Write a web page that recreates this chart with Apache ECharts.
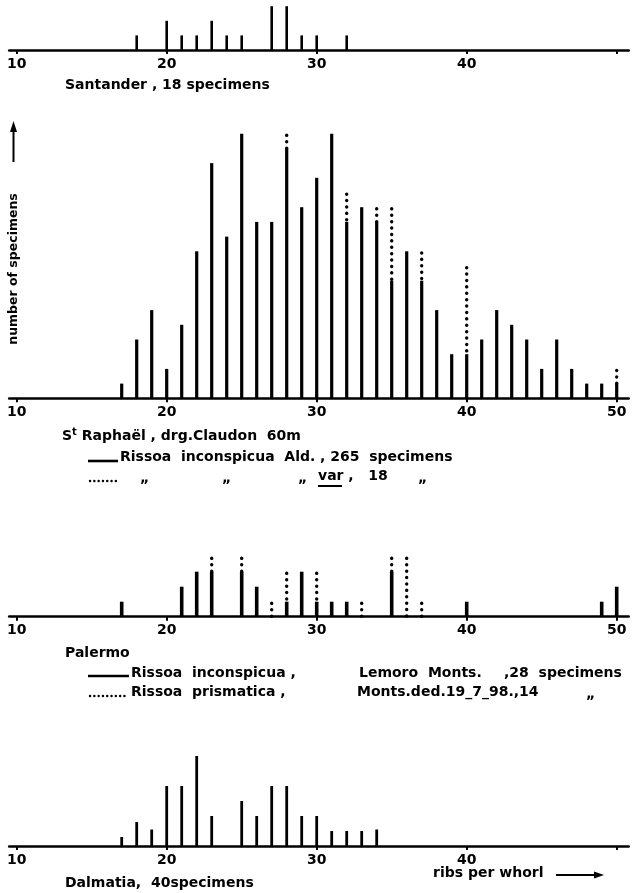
<!DOCTYPE html>
<html>
<head>
<meta charset="utf-8">
<script src="https://cdn.jsdelivr.net/npm/echarts@6/dist/echarts.min.js"></script>
<style>
  html, body { margin: 0; padding: 0; background: #fff; }
  #main { width: 641px; height: 893px; }
</style>
</head>
<body>
<div id="main"></div>
<script>
// Santander
const santanderRibs = [18, 20, 21, 22, 23, 24, 25, 27, 28, 29, 30, 32];
const santanderCount = [1, 2, 1, 1, 2, 1, 1, 3, 3, 1, 1, 1];

// St Raphaël - Rissoa inconspicua (solid) + var. (dotted)
const raphaelRibs = [17, 18, 19, 20, 21, 22, 23, 24, 25, 26, 27, 28, 29, 30, 31, 32, 33,
  34, 35, 36, 37, 38, 39, 40, 41, 42, 43, 44, 45, 46, 47, 48, 49, 50];
const raphaelCount = [1, 4, 6, 2, 5, 10, 16, 11, 18, 12, 12, 17, 13, 15, 18, 12, 13,
  12, 8, 10, 8, 6, 3, 3, 4, 6, 5, 4, 2, 4, 2, 1, 1, 1];
const raphaelVarRibs = [28, 32, 34, 35, 37, 40, 50];
const raphaelVarCount = [1, 2, 1, 5, 2, 6, 1];

// Palermo - inconspicua (solid) + prismatica (dotted)
const palermoRibs = [17, 21, 22, 23, 25, 26, 28, 29, 30, 31, 32, 35, 40, 49, 50];
const palermoCount = [1, 2, 3, 3, 3, 2, 1, 3, 1, 1, 1, 3, 1, 1, 2];
const prismaticaRibs = [23, 25, 27, 28, 30, 33, 35, 36, 37];
const prismaticaCount = [1, 1, 1, 2, 2, 1, 1, 4, 1];

// Dalmatia
const dalmatiaRibs = [17, 18, 19, 20, 21, 22, 23, 25, 26, 27, 28, 29, 30, 31, 32, 33, 34];
const dalmatiaCount = [0.6, 1.6, 1.1, 4, 4, 6, 2, 3, 2, 4, 4, 2, 2, 1, 1, 1, 1.1];

// tick labels
const ticksAll = [10, 20, 30, 40, 50];
const labelsShort = [10, 20, 30, 40];
const labelsLong = [10, 20, 30, 40, 50];

const FONT = '"DejaVu Sans", sans-serif';

// pair ribs with counts
function pairs(ribs, counts) {
  return ribs.map((r, i) => [r, counts[i]]);
}
// dotted segments sit on top of the solid bar of the same rib count
function stacked(ribs, counts, baseRibs, baseCounts) {
  return ribs.map((r, i) => {
    const k = baseRibs.indexOf(r);
    const base = k > -1 ? baseCounts[k] : 0;
    return [r, base, base + counts[i]];
  });
}

// panel layout: baseline y, y max, px per specimen
const panels = [
  { base: 50, ymax: 3, unit: 14.6, labels: labelsShort, barW: 2.6 },
  { base: 398.3, ymax: 18, unit: 14.7, labels: labelsLong, barW: 3.2 },
  { base: 616.7, ymax: 4, unit: 15, labels: labelsLong, barW: 3.6 },
  { base: 846, ymax: 6, unit: 15, labels: labelsShort, barW: 2.8 }
];

const chart = echarts.init(document.getElementById('main'));

const grid = panels.map(p => ({
  left: 9.2,
  right: 12.3,
  top: p.base - p.ymax * p.unit,
  height: p.ymax * p.unit
}));

const xAxis = panels.map((p, i) => ({
  gridIndex: i,
  type: 'value',
  min: 9.5,
  max: 50.8,
  axisLine: { onZero: false, lineStyle: { color: '#000', width: 2.6 } },
  axisTick: { customValues: ticksAll, length: 4, lineStyle: { color: '#000', width: 2 } },
  axisLabel: {
    customValues: p.labels,
    color: '#000',
    fontFamily: FONT,
    fontWeight: 'bold',
    fontSize: 14,
    margin: 7
  },
  splitLine: { show: false }
}));

const yAxis = panels.map((p, i) => ({
  gridIndex: i,
  type: 'value',
  min: 0,
  max: p.ymax,
  show: false
}));

function barSeries(i, data) {
  return {
    type: 'bar',
    xAxisIndex: i,
    yAxisIndex: i,
    barWidth: panels[i].barW,
    itemStyle: { color: '#000' },
    data: data
  };
}

function dotSeries(i, data) {
  return {
    type: 'custom',
    xAxisIndex: i,
    yAxisIndex: i,
    data: data,
    renderItem(params, api) {
      const top = api.coord([api.value(0), api.value(2)]);
      const bot = api.coord([api.value(0), api.value(1)]);
      return {
        type: 'line',
        shape: { x1: top[0], y1: top[1] + 1.6, x2: bot[0], y2: bot[1] },
        style: { stroke: '#000', lineWidth: 3.4, lineDash: [0.1, 6.3], lineCap: 'round' }
      };
    }
  };
}

const series = [
  barSeries(0, pairs(santanderRibs, santanderCount)),
  barSeries(1, pairs(raphaelRibs, raphaelCount)),
  dotSeries(1, stacked(raphaelVarRibs, raphaelVarCount, raphaelRibs, raphaelCount)),
  barSeries(2, pairs(palermoRibs, palermoCount)),
  dotSeries(2, stacked(prismaticaRibs, prismaticaCount, palermoRibs, palermoCount)),
  barSeries(3, pairs(dalmatiaRibs, dalmatiaCount))
];

// texts and legend marks
function txt(x, y, text, size) {
  return {
    type: 'text', x: x, y: y,
    style: {
      text: text, fill: '#000', verticalAlign: 'middle',
      font: 'bold ' + (size || 14) + 'px ' + FONT
    }
  };
}
function solidMark(x1, x2, y) {
  return { type: 'line', shape: { x1: x1, y1: y, x2: x2, y2: y }, style: { stroke: '#000', lineWidth: 2.6 } };
}
function dotMark(x1, x2, y) {
  return {
    type: 'line', shape: { x1: x1, y1: y, x2: x2, y2: y },
    style: { stroke: '#000', lineWidth: 2.4, lineDash: [0.1, 4.2], lineCap: 'round' }
  };
}

const graphic = [
  txt(65, 85, 'Santander , 18 specimens'),

  // y axis label + arrow
  {
    type: 'text', x: 13.5, y: 269, rotation: Math.PI / 2,
    style: {
      text: 'number of specimens', fill: '#000', align: 'center', verticalAlign: 'middle',
      font: 'bold 12.5px ' + FONT
    }
  },
  { type: 'line', shape: { x1: 13.5, y1: 162, x2: 13.5, y2: 130 }, style: { stroke: '#000', lineWidth: 2 } },
  { type: 'polygon', shape: { points: [[10, 132], [13.5, 121], [17, 132]] }, style: { fill: '#000' } },

  {
    type: 'text', x: 62, y: 436,
    style: {
      text: '{a|S}{b|t}{a| Raphaël , drg.Claudon  60m}',
      verticalAlign: 'middle', fill: '#000',
      rich: {
        a: { font: 'bold 14px ' + FONT, fill: '#000' },
        b: { font: 'bold 10px ' + FONT, fill: '#000', verticalAlign: 'top', padding: [0, 0, 8, 0] }
      }
    }
  },
  solidMark(88, 118, 461),
  txt(120, 457, 'Rissoa  inconspicua  Ald.'),
  txt(320, 457, ', 265  specimens'),
  dotMark(90, 116, 481),
  txt(140, 478, '„'),
  txt(222, 478, '„'),
  txt(298, 478, '„'),
  txt(318, 476, 'var ,   18'),
  { type: 'line', shape: { x1: 318, y1: 486, x2: 342, y2: 486 }, style: { stroke: '#000', lineWidth: 2 } },
  txt(418, 478, '„'),

  txt(65, 653, 'Palermo'),
  solidMark(88, 129, 676),
  txt(131, 673, 'Rissoa  inconspicua ,'),
  txt(359, 673, 'Lemoro  Monts.'),
  txt(504, 673, ',28  specimens'),
  dotMark(90, 128, 696),
  txt(131, 692, 'Rissoa  prismatica ,'),
  txt(357, 692, 'Monts.ded.19_7_98.,14'),
  txt(586, 694, '„'),

  txt(433, 873, 'ribs per whorl'),
  { type: 'line', shape: { x1: 556, y1: 875, x2: 596, y2: 875 }, style: { stroke: '#000', lineWidth: 2 } },
  { type: 'polygon', shape: { points: [[594, 871.5], [604, 875], [594, 878.5]] }, style: { fill: '#000' } },
  txt(65, 883, 'Dalmatia,  40specimens')
];

chart.setOption({
  animation: false,
  backgroundColor: '#fff',
  grid: grid,
  xAxis: xAxis,
  yAxis: yAxis,
  series: series,
  graphic: graphic
});
</script>
</body>
</html>
